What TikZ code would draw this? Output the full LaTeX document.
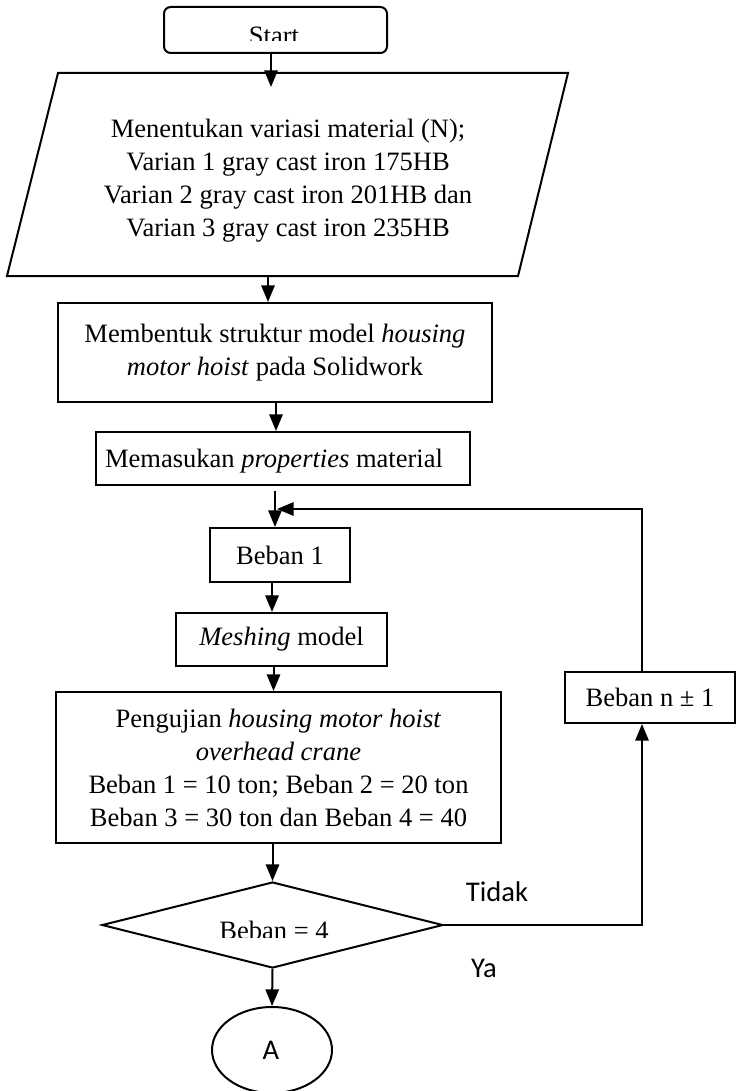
\documentclass[tikz,border=0pt]{standalone}
\usepackage{fontspec}
\setmainfont{Liberation Serif}
\newfontfamily\labelsans{Carlito}
\usetikzlibrary{arrows.meta,shapes.geometric,calc}

\begin{document}
\begin{tikzpicture}[x=0.75pt,y=-0.75pt,
  line width=1.5pt,
  every node/.style={font=\fontsize{19.9pt}{24.75pt}\selectfont},
  box/.style={draw, rectangle, inner sep=0pt, align=center},
  arr/.style={-{Triangle[length=12.5pt,width=10pt]}},
  lbl/.style={font=\labelsans\fontsize{21.4pt}{25pt}\selectfont, inner sep=0pt},
]
\useasboundingbox (0,0) rectangle (742,1091);

% start terminal (label cut off at the bottom edge)
\node[box, rounded corners=5pt, minimum width=223*0.75pt, minimum height=46*0.75pt] (start) at (275.5,30) {};
\begin{scope}
  \clip (150,0) rectangle (400,41);
  \node[anchor=base, inner sep=0pt] (starttxt) at (274,44.5) {Start};
\end{scope}

% input parallelogram
\coordinate (pTL) at (58,73);
\coordinate (pTR) at (568,73);
\coordinate (pBR) at (518,276);
\coordinate (pBL) at (7,276);
\draw (pTL) -- (pTR) -- (pBR) -- (pBL) -- cycle;
\node[align=center, inner sep=0pt] (input) at (288,181)
  {Menentukan variasi material (N);\\
   Varian 1 gray cast iron 175HB\\
   Varian 2 gray cast iron 201HB dan\\
   Varian 3 gray cast iron 235HB};
\coordinate (inTop) at (271,87);
\coordinate (inBot) at (268,276);

% process boxes
\node[box, minimum width=434*0.75pt, minimum height=99*0.75pt] (model) at (275,352.5)
  {Membentuk struktur model \textit{housing}\\ \textit{motor hoist} pada Solidwork};
\node[box, minimum width=374*0.75pt, minimum height=53*0.75pt] (props) at (283,458.5) {};
\node[anchor=base, inner sep=0pt] (propstxt) at (274,467)
  {Memasukan \textit{properties} material};
\node[box, minimum width=140*0.75pt, minimum height=54*0.75pt] (load1) at (280,555)
  {Beban 1};
\node[box, minimum width=211*0.75pt, minimum height=53*0.75pt] (mesh) at (281.5,639.5)
  {\textit{Meshing} model};
\node[box, minimum width=445*0.75pt, minimum height=151*0.75pt] (test) at (278.5,767.5)
  {Pengujian \textit{housing motor hoist}\\ \textit{overhead crane}\\
   Beban 1 = 10 ton; Beban 2 = 20 ton\\ Beban 3 = 30 ton dan Beban 4 = 40};
\node[box, minimum width=170*0.75pt, minimum height=51*0.75pt] (next) at (650,697.5)
  {Beban n ± 1};

% decision
\node[draw, diamond, inner sep=0pt, minimum width=341*0.75pt, minimum height=86*0.75pt] (check) at (272.5,925) {};
\begin{scope}
  \clip (150,900) rectangle (400,937);
  \node[anchor=base, inner sep=0pt] (checktxt) at (274,939.5) {Beban = 4};
\end{scope}
\node[lbl] (no) at (497,892) {Tidak};
\node[lbl] (yes) at (484,968) {Ya};

% connector
\node[draw, ellipse, inner sep=0pt, minimum width=120*0.75pt, minimum height=86*0.75pt] (conn) at (272,1050) {};
\node[lbl] (conntxt) at (271,1050) {A};

% loop junction and right-hand return line
\coordinate (j1) at (275,509);
\coordinate (rc) at (642,509);

% connectors
\draw[arr] (start.south -| inTop) -- (inTop);
\draw[arr] (inBot) -- (inBot |- model.north);
\draw[arr] ([xshift=0.75pt]model.south) -- ([xshift=0.75pt]model.south |- props.north);
\draw[arr] ($(props.south -| j1)+(0,5)$) -- (j1 |- load1.north);
\draw[arr] (next.north -| rc) -- (rc) -- ($(j1)+(2,0)$);
\draw[arr] ([xshift=-6pt]load1.south) -- ([xshift=-6pt]load1.south |- mesh.north);
\draw[arr] ([xshift=-6pt]mesh.south) -- ([xshift=-6pt]mesh.south |- test.north);
\draw[arr] (test.south -| check.north) -- (check.north);
\draw[arr] (check.east) -- (check.east -| rc) -- (next.south -| rc);
\draw[arr] (check.south) -- (conn.north);
\end{tikzpicture}
\end{document}
